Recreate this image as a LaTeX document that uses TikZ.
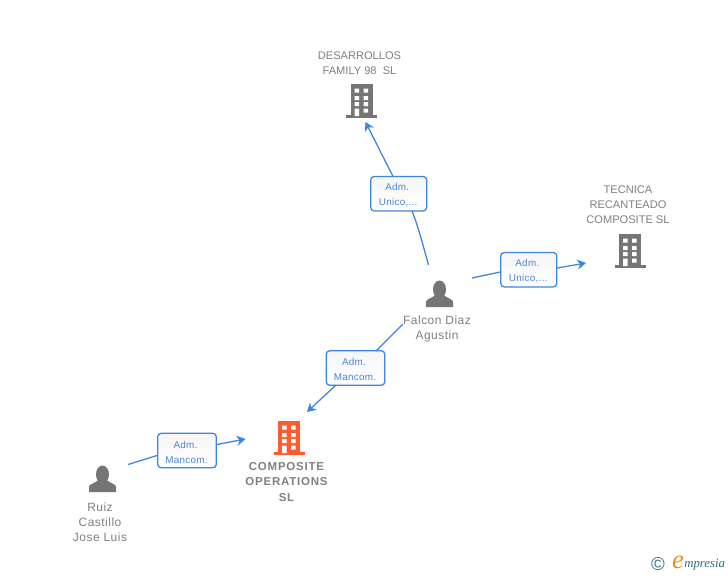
\documentclass[tikz,border=0pt]{standalone}
\usepackage{fontspec}
\setmainfont{Liberation Sans}
\newfontfamily\logofont{Liberation Serif}
\newfontfamily\wideperson[LetterSpace=4]{Liberation Sans}
\newfontfamily\widerole[LetterSpace=3]{Liberation Sans}
\newfontfamily\widebold[LetterSpace=7]{Liberation Sans Bold}
\usetikzlibrary{arrows.meta,shadings}
\definecolor{linkblue}{HTML}{3D85E0}
\definecolor{labelblue}{HTML}{4A86D8}
\definecolor{namegrey}{HTML}{808080}
\definecolor{iconorange}{HTML}{FF5B2E}
\definecolor{icongrey}{HTML}{757575}
\definecolor{logoteal}{HTML}{2F6F86}
\definecolor{logoorange}{HTML}{F08A1D}
\definecolor{boxtop}{HTML}{F6F6F6}
\tikzset{
  x=0.75pt,y=-0.75pt,
  link/.style={draw=linkblue,line width=0.95pt},
  arrowlink/.style={link,-{Stealth[length=6.5pt,width=7.5pt,inset=2pt]}},
  rolebox/.style={draw=linkblue,line width=0.95pt,rounded corners=2.6pt,top color=boxtop,bottom color=white,
    inner sep=0pt,align=center,text=labelblue,font=\widerole\fontsize{7.4pt}{11.25pt}\selectfont},
  namelabel/.style={text=namegrey,align=center,inner sep=0pt,font=\fontsize{8.3pt}{11.25pt}\selectfont},
  personlabel/.style={text=namegrey,align=center,inner sep=0pt,font=\wideperson\fontsize{9pt}{11.25pt}\selectfont},
  boldlabel/.style={text=namegrey,align=center,inner sep=0pt,font=\widebold\fontsize{8.6pt}{11.4pt}\selectfont},
}
\newcommand{\roletext}[2]{\rule{0pt}{7.6pt}#1\hspace*{2.2pt}\\#2\hspace*{0.8pt}}
% building icon: centre x, top y, colour
\newcommand{\buildingicon}[3]{%
  \begin{scope}[shift={(#1,#2)}]
    \fill[#3] (-11,0) rectangle (11,32);
    \fill[#3] (-15.5,31) rectangle (15.5,34);
    \fill[white] (-7,4.5) rectangle (-2.5,8.5) (2,4.5) rectangle (6.5,8.5)
                 (-7,12) rectangle (-2.5,16) (2,12) rectangle (6.5,16)
                 (-7,18) rectangle (-2.5,22) (2,18) rectangle (6.5,22)
                 (-7,24.5) rectangle (-2.5,32) (2,24.5) rectangle (6.5,28.5);
  \end{scope}}
% person icon: centre x, top y
\newcommand{\personicon}[2]{%
  \begin{scope}[shift={(#1,#2)}]
    \fill[icongrey] (0,8.5) ellipse (6.5 and 9);
    \fill[icongrey] (-13.5,26) -- (-13.5,21) .. controls (-13.5,18) and (-8,17.5) .. (-4,14)
      -- (4,14) .. controls (8,17.5) and (13.5,18) .. (13.5,21) -- (13.5,26) -- cycle;
  \end{scope}}
\begin{document}
\begin{tikzpicture}
\useasboundingbox (0,0) rectangle (728,575);
\fill[white] (0,0) rectangle (728,575);

% names
\node[namelabel] (desarrollos) at (359.5,63.5) {DESARROLLOS\\FAMILY 98\ \ SL};
\node[namelabel] (tecnica) at (628,205) {TECNICA\\RECANTEADO\\COMPOSITE SL};
\node[personlabel] (falcon) at (437,329) {Falcon Diaz\\Agustin};
\node[boldlabel] (composite) at (286.5,482) {COMPOSITE\\OPERATIONS\\SL};
\node[personlabel] (ruiz) at (100,522) {Ruiz\\Castillo\\Jose Luis};

% icons
\buildingicon{361.5}{84}{icongrey}
\buildingicon{630}{234}{icongrey}
\buildingicon{289}{421}{iconorange}
\personicon{439.5}{281}
\personicon{102.5}{466}

% role boxes
\node[rolebox,minimum width=42pt,minimum height=25.8pt] (roleA) at (398.7,193.7) {\roletext{Adm.}{Unico,...}};
\node[rolebox,minimum width=42pt,minimum height=25.8pt] (roleB) at (528.8,269.7) {\roletext{Adm.}{Unico,...}};
\node[rolebox,minimum width=44pt,minimum height=25.8pt] (roleC) at (355.5,368) {\roletext{Adm.}{Mancom.}};
\node[rolebox,minimum width=44pt,minimum height=25.8pt] (roleD) at (187,450.5) {\roletext{Adm.}{Mancom.}};

% free ends
\coordinate (falconN) at (428.5,265);
\coordinate (falconE) at (472,278);
\coordinate (falconS) at (403,324);
\coordinate (ruizE) at (128,464.5);
\coordinate (desS) at (365.5,122);
\coordinate (tecW) at (586,263);
\coordinate (compN) at (307,412);
\coordinate (compW) at (245.5,439);

% connectors
\draw[link] (falconN) .. controls (423,245) and (418,226) .. (412,211);
\draw[arrowlink] (393,176.5) -- (desS);
\draw[link] (falconE) -- (roleB.west |- 0,272);
\draw[arrowlink] (roleB.east |- 0,268) -- (tecW);
\draw[link] (falconS) -- (376,351);
\draw[arrowlink] (336,385) -- (compN);
\draw[link] (ruizE) -- (roleD.west |- 0,455.5);
\draw[arrowlink] (roleD.east |- 0,444.5) -- (compW);

% logo
\node[inner sep=0pt,text=logoteal,font=\fontsize{14pt}{14pt}\selectfont] (copyr) at (658,564) {\char"00A9};
\node[inner sep=0pt,text=logoorange,font=\logofont\itshape\fontsize{20pt}{20pt}\selectfont] (logoe) at (678,562.5) {e};
\node[inner sep=0pt,anchor=west,text=logoteal,font=\logofont\itshape\fontsize{9.6pt}{10pt}\selectfont] (logotext) at (684,565) {mpresia};
\end{tikzpicture}
\end{document}
